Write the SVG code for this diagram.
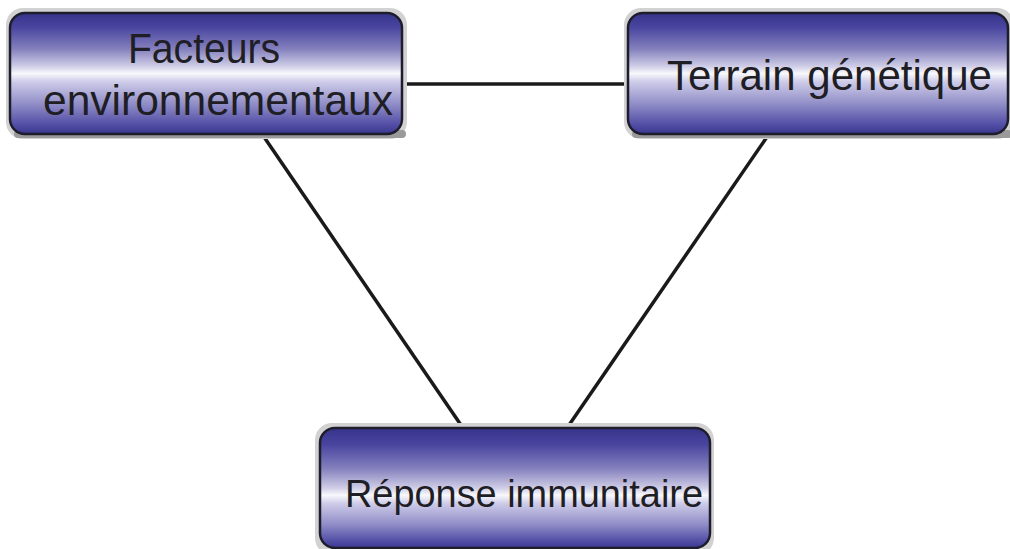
<svg xmlns="http://www.w3.org/2000/svg" width="1010" height="549" viewBox="0 0 1010 549">
  <defs>
    <linearGradient id="g" x1="0" y1="0" x2="0" y2="1">
      <stop offset="0" stop-color="#36338a"/>
      <stop offset="0.12" stop-color="#4a46a0"/>
      <stop offset="0.3" stop-color="#8581be"/>
      <stop offset="0.44" stop-color="#cfcde6"/>
      <stop offset="0.5" stop-color="#f8f8fc"/>
      <stop offset="0.57" stop-color="#cdcbe8"/>
      <stop offset="0.75" stop-color="#918ec8"/>
      <stop offset="0.92" stop-color="#534fa6"/>
      <stop offset="1" stop-color="#3a3790"/>
    </linearGradient>
    <linearGradient id="g3" x1="0" y1="0" x2="0" y2="1">
      <stop offset="0" stop-color="#36338a"/>
      <stop offset="0.14" stop-color="#4a46a0"/>
      <stop offset="0.34" stop-color="#8581be"/>
      <stop offset="0.5" stop-color="#cfcde6"/>
      <stop offset="0.56" stop-color="#f8f8fc"/>
      <stop offset="0.63" stop-color="#cdcbe8"/>
      <stop offset="0.8" stop-color="#918ec8"/>
      <stop offset="0.94" stop-color="#534fa6"/>
      <stop offset="1" stop-color="#3a3790"/>
    </linearGradient>
  </defs>
  <style>
    .shadow { fill: #d2d2d2; }
    .shadow2 { fill: #9a9a9a; }
    .box { fill: url(#g); stroke: #1e1d2c; stroke-width: 2.5; }
    .box3 { fill: url(#g3); stroke: #1e1d2c; stroke-width: 2.5; }
    .label { font-family: "Liberation Sans", Arial, sans-serif; fill: #1e1e24; }
    .conn { stroke: #1a1a1a; stroke-width: 3.5; fill: none; stroke-linecap: butt; }
  </style>
  <rect width="1010" height="549" fill="#ffffff"/>
  <g id="connectors">
    <line class="conn" x1="402" y1="84" x2="628" y2="84"/>
    <line class="conn" x1="262" y1="134" x2="463" y2="428"/>
    <line class="conn" x1="769" y1="134" x2="567" y2="428"/>
  </g>
  <g id="node-facteurs">
    <rect class="shadow" x="6" y="8" width="401" height="131" rx="17"/>
    <rect class="shadow2" x="14" y="130" width="392" height="8" rx="4"/>
    <rect class="box" x="10" y="13" width="392" height="121" rx="15"/>
    <text class="label" x="128" y="63" font-size="42" textLength="152" lengthAdjust="spacingAndGlyphs">Facteurs</text>
    <text class="label" x="43" y="115" font-size="42" textLength="350" lengthAdjust="spacingAndGlyphs">environnementaux</text>
  </g>
  <g id="node-terrain">
    <rect class="shadow" x="624" y="8" width="390" height="131" rx="17"/>
    <rect class="shadow2" x="632" y="130" width="380" height="8" rx="4"/>
    <rect class="box" x="628" y="13" width="380" height="121" rx="15"/>
    <text class="label" x="667" y="90" font-size="42" textLength="325" lengthAdjust="spacingAndGlyphs">Terrain génétique</text>
  </g>
  <g id="node-reponse">
    <rect class="shadow" x="315" y="423" width="399" height="132" rx="17"/>
    <rect class="box3" x="320" y="428" width="390" height="120" rx="15"/>
    <text class="label" x="345" y="507" font-size="38" textLength="358" lengthAdjust="spacingAndGlyphs">Réponse immunitaire</text>
  </g>
</svg>
